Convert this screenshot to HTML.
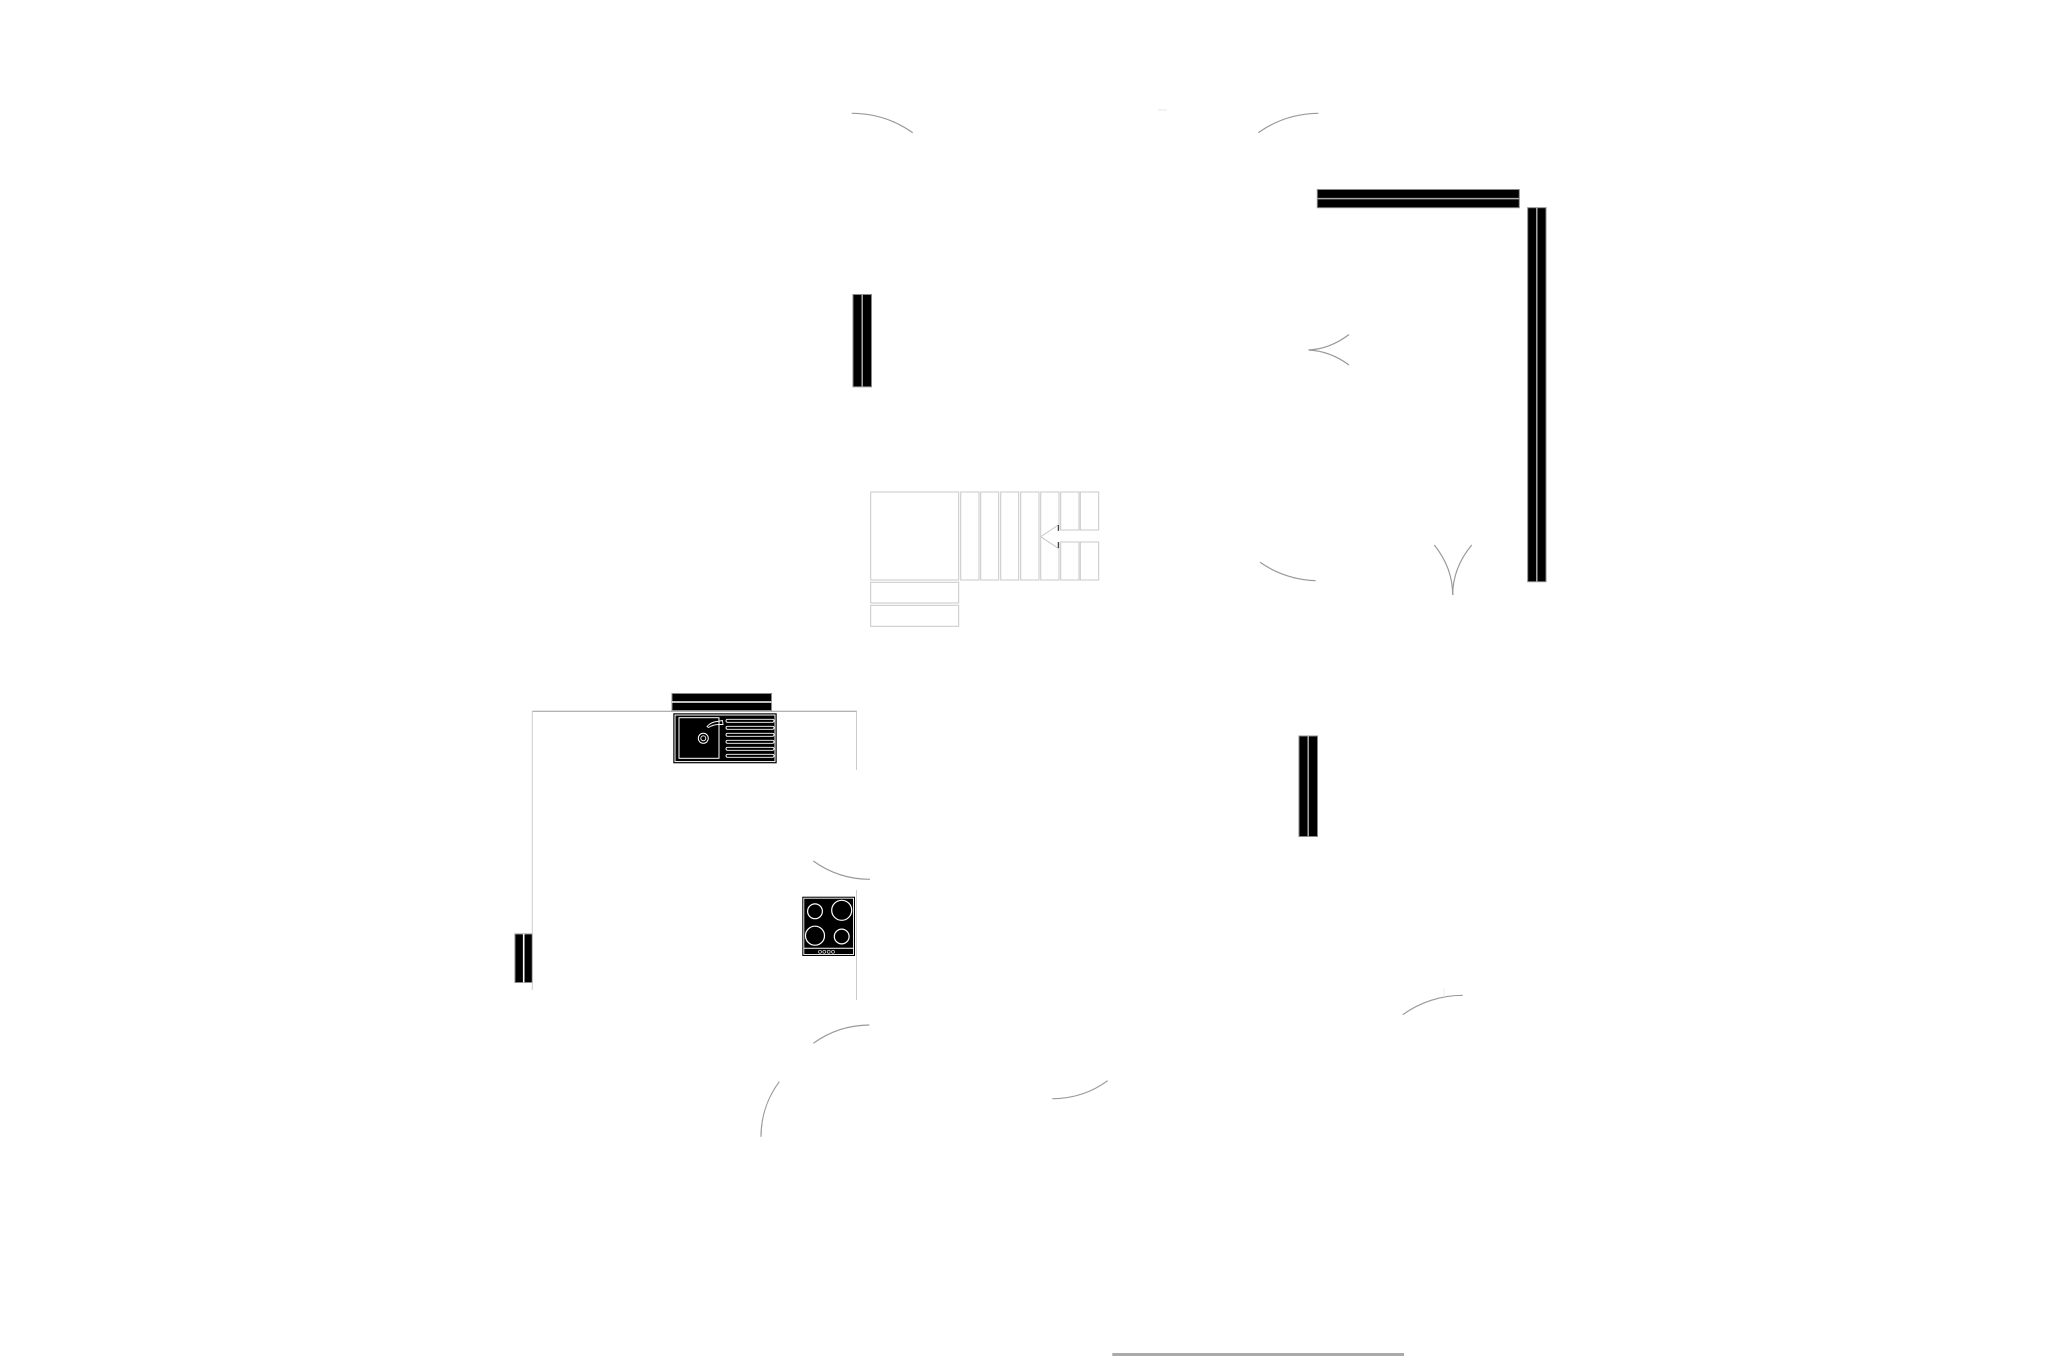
<!DOCTYPE html>
<html>
<head>
<meta charset="utf-8">
<style>
html,body{margin:0;padding:0;background:#fff;}
svg{display:block;}
</style>
</head>
<body>
<svg width="2057" height="1371" viewBox="0 0 2057 1371" xmlns="http://www.w3.org/2000/svg">
<rect x="0" y="0" width="2057" height="1371" fill="#fff"/>

<!-- Walls -->
<g stroke="#888" stroke-width="1" fill="#000">
  <rect x="1317.3" y="189.5" width="202" height="18.2"/>
  <rect x="1527.7" y="207.7" width="18.3" height="374"/>
  <rect x="853" y="294.5" width="18.5" height="92.3"/>
  <rect x="672" y="693.5" width="99.5" height="17"/>
  <rect x="515" y="934" width="17.5" height="48.5"/>
  <rect x="1299" y="736" width="18.5" height="100.5"/>
</g>
<g stroke="#aaa" stroke-width="1.5">
  <line x1="1317.3" y1="198.6" x2="1519.3" y2="198.6"/>
  <line x1="1536.8" y1="207.7" x2="1536.8" y2="581.7"/>
  <line x1="862.2" y1="294.5" x2="862.2" y2="386.8"/>
  <line x1="1308.2" y1="736" x2="1308.2" y2="836.5"/>
</g>
<g stroke="#fff" stroke-width="1.6">
  <line x1="672" y1="702" x2="771.5" y2="702"/>
  <line x1="523.7" y1="934" x2="523.7" y2="982.5"/>
</g>

<!-- Kitchen counter lines -->
<line x1="532.3" y1="711.3" x2="857" y2="711.3" stroke="#999" stroke-width="1"/>
<line x1="532.3" y1="711.3" x2="532.3" y2="990" stroke="#ccc" stroke-width="1"/>
<line x1="856.5" y1="711.3" x2="856.5" y2="770" stroke="#ccc" stroke-width="1"/>
<line x1="856.5" y1="890" x2="856.5" y2="1000" stroke="#ccc" stroke-width="1"/>

<!-- Door arcs -->
<g fill="none" stroke="#9a9a9a" stroke-width="1.2">
  <path d="M851.7,113.3 A105.6,105.6 0 0 1 912.7,132.7"/>
  <path d="M1258.3,132.7 A105.6,105.6 0 0 1 1318.3,113.3"/>
  <path d="M1260,562.3 A105.6,105.6 0 0 0 1315.7,580.7"/>
  <path d="M813.3,861 A97,97 0 0 0 870,879.3"/>
  <path d="M813.3,1043.3 A97,97 0 0 1 869.3,1025"/>
  <path d="M779.3,1081.7 A92,92 0 0 0 761,1136.7"/>
  <path d="M1052.3,1098.7 A94,94 0 0 0 1107.7,1080.7"/>
  <path d="M1402.7,1014.7 A102.5,102.5 0 0 1 1462.7,995.3"/>
  <path d="M1308.5,350 Q1330,349 1349,334.5"/>
  <path d="M1308.5,350 Q1330,351 1349,365"/>
  <path d="M1434.3,545 Q1452.7,568 1452.7,595"/>
  <path d="M1471.7,545 Q1452.7,568 1452.7,595"/>
</g>
<line x1="1158" y1="110" x2="1167" y2="110" stroke="#eee" stroke-width="1.5"/>
<line x1="1444" y1="988" x2="1444" y2="997" stroke="#eee" stroke-width="1"/>

<!-- Stairs -->
<g fill="none" stroke="#c8c8c8" stroke-width="1">
  <rect x="870.7" y="492" width="88" height="88"/>
  <rect x="870.7" y="582.3" width="88" height="20.7"/>
  <rect x="870.7" y="605.3" width="88" height="21"/>
  <rect x="960.7" y="492" width="18.3" height="88"/>
  <rect x="980.7" y="492" width="18" height="88"/>
  <rect x="1000.7" y="492" width="18" height="88"/>
  <rect x="1020.7" y="492" width="18.3" height="88"/>
  <path d="M1059,530 L1059,492 L1040.7,492 L1040.7,580 L1059,580 L1059,542"/>
  <rect x="1060.7" y="492" width="18.3" height="38"/>
  <rect x="1080.3" y="492" width="18.4" height="38"/>
  <rect x="1060.7" y="542" width="18.3" height="38"/>
  <rect x="1080.3" y="542" width="18.4" height="38"/>
  <path d="M1058.3,525 L1040.7,536.7 L1058.3,548.3"/>
</g>
<g stroke="#222" stroke-width="1">
  <line x1="1058.3" y1="525" x2="1058.3" y2="531"/>
  <line x1="1058.3" y1="542" x2="1058.3" y2="548"/>
</g>

<!-- Sink -->
<rect x="673.3" y="713.3" width="103.4" height="50" fill="#000"/>
<rect x="675" y="715" width="100" height="46.6" fill="none" stroke="#fff" stroke-width="1"/>
<rect x="679" y="717.7" width="40" height="40.6" fill="none" stroke="#fff" stroke-width="1"/>
<circle cx="703.3" cy="738.3" r="5" fill="none" stroke="#fff" stroke-width="1"/>
<circle cx="703.3" cy="738.3" r="2.5" fill="none" stroke="#fff" stroke-width="0.9"/>
<path d="M707,726.5 Q711,722 717,721.5 L722.5,720.5 L723,724.5 L719,724.5 Q713,724.5 708.5,727.5 Z" fill="none" stroke="#fff" stroke-width="0.9"/>
<g fill="#000" stroke="#fff" stroke-width="0.9">
  <rect x="726" y="719.3" width="48" height="3" rx="1.5"/>
  <rect x="726" y="726.3" width="48" height="3" rx="1.5"/>
  <rect x="726" y="733.3" width="48" height="3" rx="1.5"/>
  <rect x="726" y="740.3" width="48" height="3" rx="1.5"/>
  <rect x="726" y="747.3" width="48" height="3" rx="1.5"/>
  <rect x="726" y="754.3" width="48" height="3" rx="1.5"/>
</g>

<!-- Cooktop -->
<rect x="802.3" y="896.7" width="52.7" height="59.3" fill="#000"/>
<rect x="803.8" y="898.2" width="49.7" height="56.3" fill="none" stroke="#fff" stroke-width="0.9"/>
<line x1="803.8" y1="948.3" x2="853.5" y2="948.3" stroke="#fff" stroke-width="1"/>
<g fill="none" stroke="#fff" stroke-width="1.2">
  <circle cx="815" cy="911.3" r="7.4"/>
  <circle cx="841.7" cy="910.3" r="10"/>
  <circle cx="815" cy="935.7" r="9.5"/>
  <circle cx="841.7" cy="936.5" r="7.4"/>
</g>
<g fill="none" stroke="#ddd" stroke-width="0.7">
  <circle cx="820" cy="951.8" r="1.5"/>
  <circle cx="824.3" cy="951.8" r="1.5"/>
  <circle cx="828.7" cy="951.8" r="1.5"/>
  <circle cx="833" cy="951.8" r="1.5"/>
</g>

<!-- Bottom scale line -->
<line x1="1112.3" y1="1354.5" x2="1404" y2="1354.5" stroke="#aaa" stroke-width="3"/>
</svg>
</body>
</html>
